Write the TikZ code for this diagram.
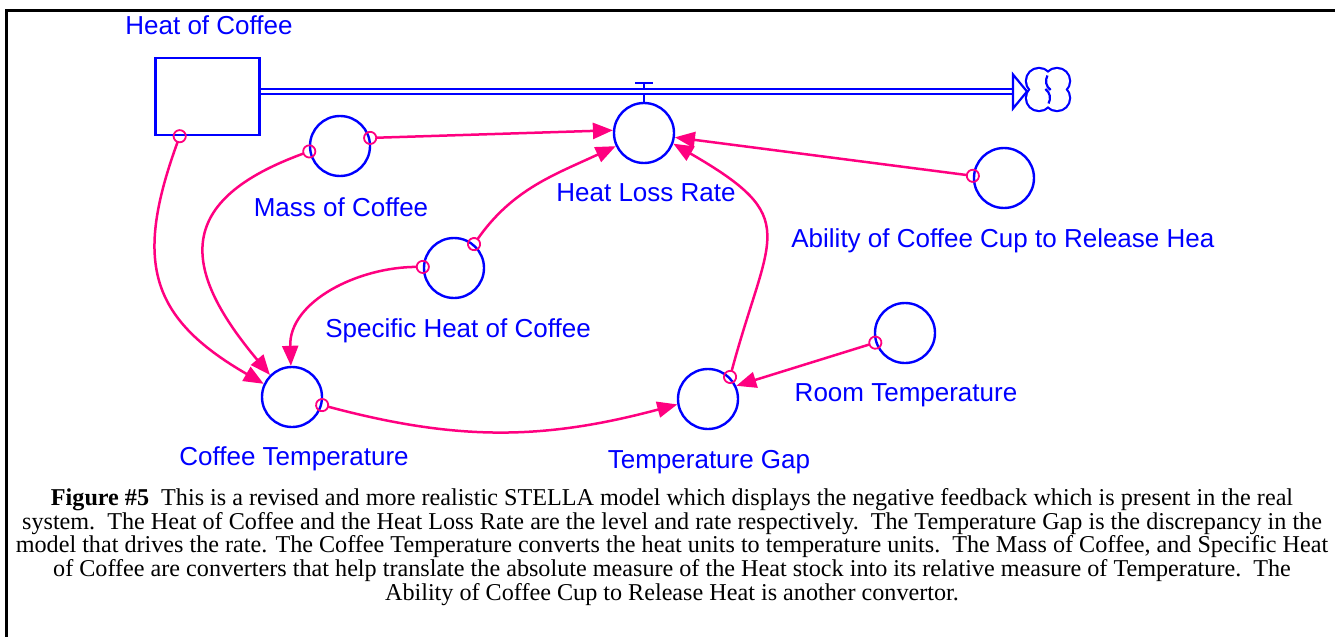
\documentclass[tikz,border=0pt]{standalone}
\usepackage{fontspec}
\setmainfont{Liberation Serif}
\newfontfamily\stellafont{Liberation Sans}
\usepackage{tikz}
\usetikzlibrary{arrows.meta}
\definecolor{stellablue}{RGB}{0,0,255}
\definecolor{linkpink}{RGB}{255,0,128}

\begin{document}
\begin{tikzpicture}[x=0.5pt, y=-0.5pt]
  \tikzstyle{conv}=[circle, draw=stellablue, line width=1.2pt, minimum size=30pt, inner sep=0pt]
  \tikzstyle{stock}=[rectangle, draw=stellablue, line width=1.2pt, minimum width=52pt, minimum height=38.5pt, inner sep=0pt]
  \tikzstyle{varlabel}=[text=stellablue, font=\stellafont\fontsize{13}{15}\selectfont, inner sep=0pt, anchor=base]
  \tikzstyle{connector}=[draw=linkpink, line width=1.25pt, {Circle[open,length=7pt,width=7pt,line width=0.9pt]}-{Triangle[length=10pt,width=8pt]}, shorten <=-3.5pt]
  \tikzstyle{flowpipe}=[draw=stellablue, line width=1.1pt, double=white, double distance=1.5pt]
  \useasboundingbox (0,0) rectangle (1335,637);
  \draw[line width=1.5pt] (6.5,637) -- (6.5,10.5) -- (1335,10.5);

  \node[stock] (heat) at (207.5,96.5) {};
  \node[conv] (mass) at (340,146) {};
  \node[conv] (hlr) at (644,133) {};
  \node[conv] (ab) at (1004,178) {};
  \node[conv] (spec) at (454,268) {};
  \node[conv] (ct) at (292,397) {};
  \node[conv] (tg) at (708,399) {};
  \node[conv] (rt) at (905,333) {};

  \node[varlabel] (heat_l) at (209,34) {Heat of Coffee};
  \node[varlabel] (mass_l) at (341,216) {Mass of Coffee};
  \node[varlabel] (hlr_l) at (646,201) {Heat Loss Rate};
  \node[varlabel, anchor=base west] (ab_l) at (791,247) {Ability of Coffee Cup to Release Hea};
  \node[varlabel] (spec_l) at (458,337) {Specific Heat of Coffee};
  \node[varlabel] (ct_l) at (294,465) {Coffee Temperature};
  \node[varlabel] (tg_l) at (709,468) {Temperature Gap};
  \node[varlabel] (rt_l) at (906,401) {Room Temperature};

  % flow out of the stock into the cloud
  \coordinate (sink) at (1013,91.5);
  \draw[stellablue, line width=1pt] (hlr.north) -- ++(0,-19) coordinate (valve);
  \draw[stellablue, line width=1pt] (valve) ++(-9,0) -- ++(18,0);
  \draw[flowpipe] (heat.east |- sink) -- (sink);
  \draw[stellablue, line width=1.1pt, line join=miter] (sink) ++(0,-17) -- ++(14,17) -- ++(-14,17) -- cycle;
  \foreach \cx/\cy in {1039/81, 1039/98, 1057/98, 1057/81}
    \draw[stellablue, line width=2.2pt] (\cx,\cy) circle[radius=6pt];
  \foreach \cx/\cy in {1039/81, 1039/98, 1057/98, 1057/81}
    \fill[white] (\cx,\cy) circle[radius=6pt];
  \draw[stellablue, line width=1.1pt] (1057,81) ++(150:5.5pt) arc[start angle=150, end angle=235, radius=5.5pt];
  \draw[stellablue, line width=1.1pt] (1039,98) ++(-30:5.5pt) arc[start angle=-30, end angle=55, radius=5.5pt];

  \draw[connector] (heat.-125) to[out=-110, in=150, looseness=1.3] (ct.155);
  \draw[connector] (mass.190) to[out=200, in=130, looseness=1.6] (ct.135);
  \draw[connector] (spec.178) to[out=180, in=92] (ct.92);
  \draw[connector] (mass.15) -- (hlr.175);
  \draw[connector] (spec.50) to[out=55, in=205] (hlr.205);
  \draw[connector] (ab.176) -- (hlr.-8);
  \draw[connector] (ct.-15) to[out=-15, in=195] (tg.190);
  \draw[connector] (tg.45) to[out=75, in=-30, looseness=1.6] (hlr.-20);
  \draw[connector] (rt.198) -- (tg.25);

  \node[align=center, font=\fontsize{12.08}{11.85}\selectfont] (caption) at (672,547)
    {\textbf{Figure \#5}\ \ This is a revised and more realistic STELLA model which displays the negative feedback which is present in the real\\
     system.\ \ The Heat of Coffee and the Heat Loss Rate are the level and rate respectively.\ \ The Temperature Gap is the discrepancy in the\\
     model that drives the rate. The Coffee Temperature converts the heat units to temperature units.\ \ The Mass of Coffee, and Specific Heat\\
     of Coffee are converters that help translate the absolute measure of the Heat stock into its relative measure of Temperature.\ \ The\\
     Ability of Coffee Cup to Release Heat is another convertor.};
\end{tikzpicture}
\end{document}
